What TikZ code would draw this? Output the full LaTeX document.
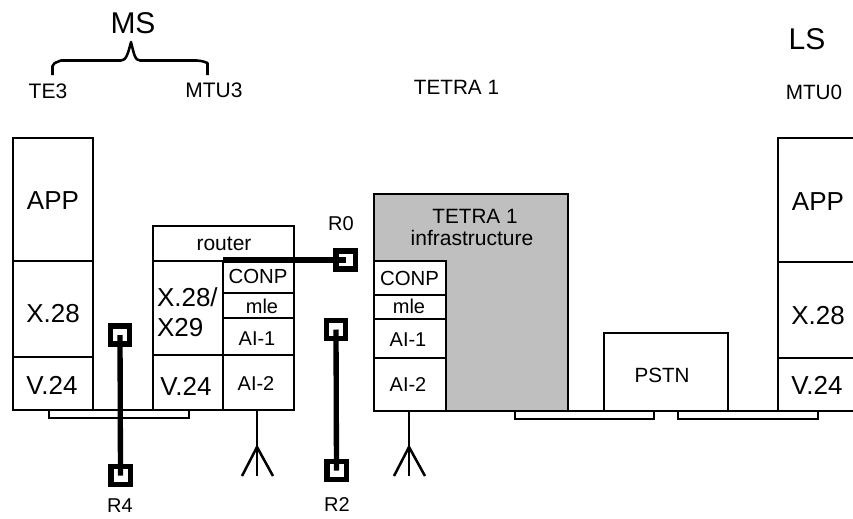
\documentclass[tikz,border=0pt]{standalone}
\usepackage{fontspec}
\setmainfont{Liberation Sans}
\newcommand{\bx}[6][white]{\node[boxn,fill=#1,minimum width={(#5-#3)*0.75pt},minimum height={(#6-#4)*0.75pt}] (#2) at ({(#3+#5)/2},{(#4+#6)/2}) {};}
\newcommand{\tx}[6][20.5]{\pgfmathsetmacro{\fsz}{#1*0.75}\node[lab,font=\fontsize{\fsz}{\fsz}\selectfont] (#2) at (#3,#4) {#5#6};}
\tikzset{
  boxn/.style={draw=black,line width=2pt,inner sep=0pt,outer sep=0pt,rectangle},
  lab/.style={anchor=base,inner sep=0pt,outer sep=0pt,text=black},
  rsq/.style={draw=black,fill=white,line width=4pt,inner sep=0pt,outer sep=0pt,rectangle,minimum width=14.5pt,minimum height=13.5pt},
  rlink/.style={line width=4pt,draw=black},
  thin1/.style={line width=1.9pt,draw=black},
}
\begin{document}
\begin{tikzpicture}[x=0.75pt,y=-0.75pt]
\useasboundingbox (0,0) rectangle (853,518);
\begin{scope}
\clip (0,0) rectangle (853,518);
% left terminal
\bx{teapp}{13}{138}{93}{261}
\bx{tex}{13}{261}{93}{357}
\bx{tev}{13}{357}{93}{410}
% router stack
\bx{rtr}{153}{226}{294}{261}
\bx{rx}{153}{261}{223}{355}
\bx{rv}{153}{355}{223}{410}
\bx{rconp}{223}{261}{294}{293}
\bx{rmle}{223}{293}{294}{318}
\bx{rai1}{223}{318}{294}{355}
\bx{rai2}{223}{355}{294}{410}
\bx{barA}{49}{410}{189}{418}
% TETRA infrastructure
\bx[gray!50]{inf}{374}{194}{568}{411}
\bx{tconp}{374}{261}{446}{295}
\bx{tmle}{374}{295}{446}{319}
\bx{tai1}{374}{319}{446}{358}
\bx{tai2}{374}{358}{446}{411}
% PSTN and right terminal
\bx{pstn}{604}{333}{728}{411}
\bx{lsapp}{778}{138}{860}{262}
\bx{lsx}{778}{262}{860}{358}
\bx{lsv}{778}{358}{860}{411}
\coordinate (bl) at (568,411);
\coordinate (br) at (853,411);
\draw[thin1] (bl) -- (br);
\bx{barB}{515}{411}{654}{419}
\bx{barC}{678}{411}{818}{419}
\end{scope}
% antennas
\foreach \nm/\src/\ax in {a/rai2/257,b/tai2/409}{
  \coordinate (fork\nm) at (\ax,447);
  \coordinate (tipL\nm) at (\ax-15,476);
  \coordinate (tipM\nm) at (\ax,476);
  \coordinate (tipR\nm) at (\ax+16,476);
  \draw[thin1] (\src.south -| fork\nm) -- (tipM\nm);
  \draw[thin1] (tipL\nm) -- (fork\nm) -- (tipR\nm);
}
% reference points
\node[rsq] (r4t) at (120,335) {};
\node[rsq] (r4b) at (120.5,475.5) {};
\node[rsq] (r2t) at (336,329.5) {};
\node[rsq] (r2b) at (336.5,470.5) {};
\node[rsq] (r0) at (345.5,260) {};
\coordinate (r0s) at (223,260);
\draw[rlink] (r4t.center) -- (r4b.center);
\draw[rlink] (r2t.center) -- (r2b.center);
\draw[rlink] (r0s) -- (r0.center);
% brace
\coordinate (bL) at (52.5,75);
\coordinate (bR) at (207.5,75);
\coordinate (bT) at (131,42);
\draw[thin1,line join=round] (bL) -- (52.5,66) .. controls (53,63) and (55,63) .. (61,60.5) -- (121,60.5) .. controls (126,60.5) and (128,54) .. (bT) .. controls (134,54) and (135,60.5) .. (140,60.5) -- (197,60.5) .. controls (203,61) and (205,62) .. (207.5,63) -- (bR);
% labels
\tx[30]{lms}{133}{33}{MS}{}
\tx[21]{lte}{48}{98}{TE3}{}
\tx[21]{lmtu}{214}{97}{MTU3}{}
\tx[20.7]{ltetra}{456.5}{94}{TETRA 1}{}
\tx[30]{lls}{807}{49}{LS}{}
\tx[20.7]{lmtuo}{814}{99}{MTU0}{}
\tx[26]{ta}{53}{209}{APP}{}
\tx[26]{tx}{53}{322}{X.28}{}
\tx[26]{tv}{52}{394}{V.24}{}
\tx[21]{lrtr}{224}{250}{router}{}
\tx[20]{lr0}{341}{230}{R0}{}
\node[lab,anchor=base west,font=\fontsize{19.5}{19.5}\selectfont] (lx28) at (157,306) {X.28/};
\node[lab,anchor=base west,font=\fontsize{19.5}{19.5}\selectfont] (lx29) at (157,336) {X29};
\tx[26]{lv}{186}{395}{V.24}{}
\tx[20.4]{lc}{258}{283}{CONP}{}
\tx[20]{lm}{262}{313}{mle}{}
\tx[20]{la}{257}{345}{AI-1}{}
\tx[20]{lb}{256}{390}{AI-2}{}
\tx[20]{lr4}{120}{512}{R4}{}
\tx[20]{lr2}{337}{511}{R2}{}
\tx[20.4]{tc}{409.5}{285}{CONP}{}
\tx[20]{tm}{409}{313}{mle}{}
\tx[20]{tai}{408}{346}{AI-1}{}
\tx[20]{tbi}{408}{391}{AI-2}{}
\tx[20.7]{ti}{475}{223}{TETRA 1}{}
\tx[21]{tj}{472}{245}{infrastructure}{}
\tx[20.6]{lp}{662}{382}{PSTN}{}
\tx[26]{ra}{818}{210}{APP}{}
\tx[26]{rx}{818}{324}{X.28}{}
\tx[26]{rv2}{817}{394}{V.24}{}
\end{tikzpicture}
\end{document}
